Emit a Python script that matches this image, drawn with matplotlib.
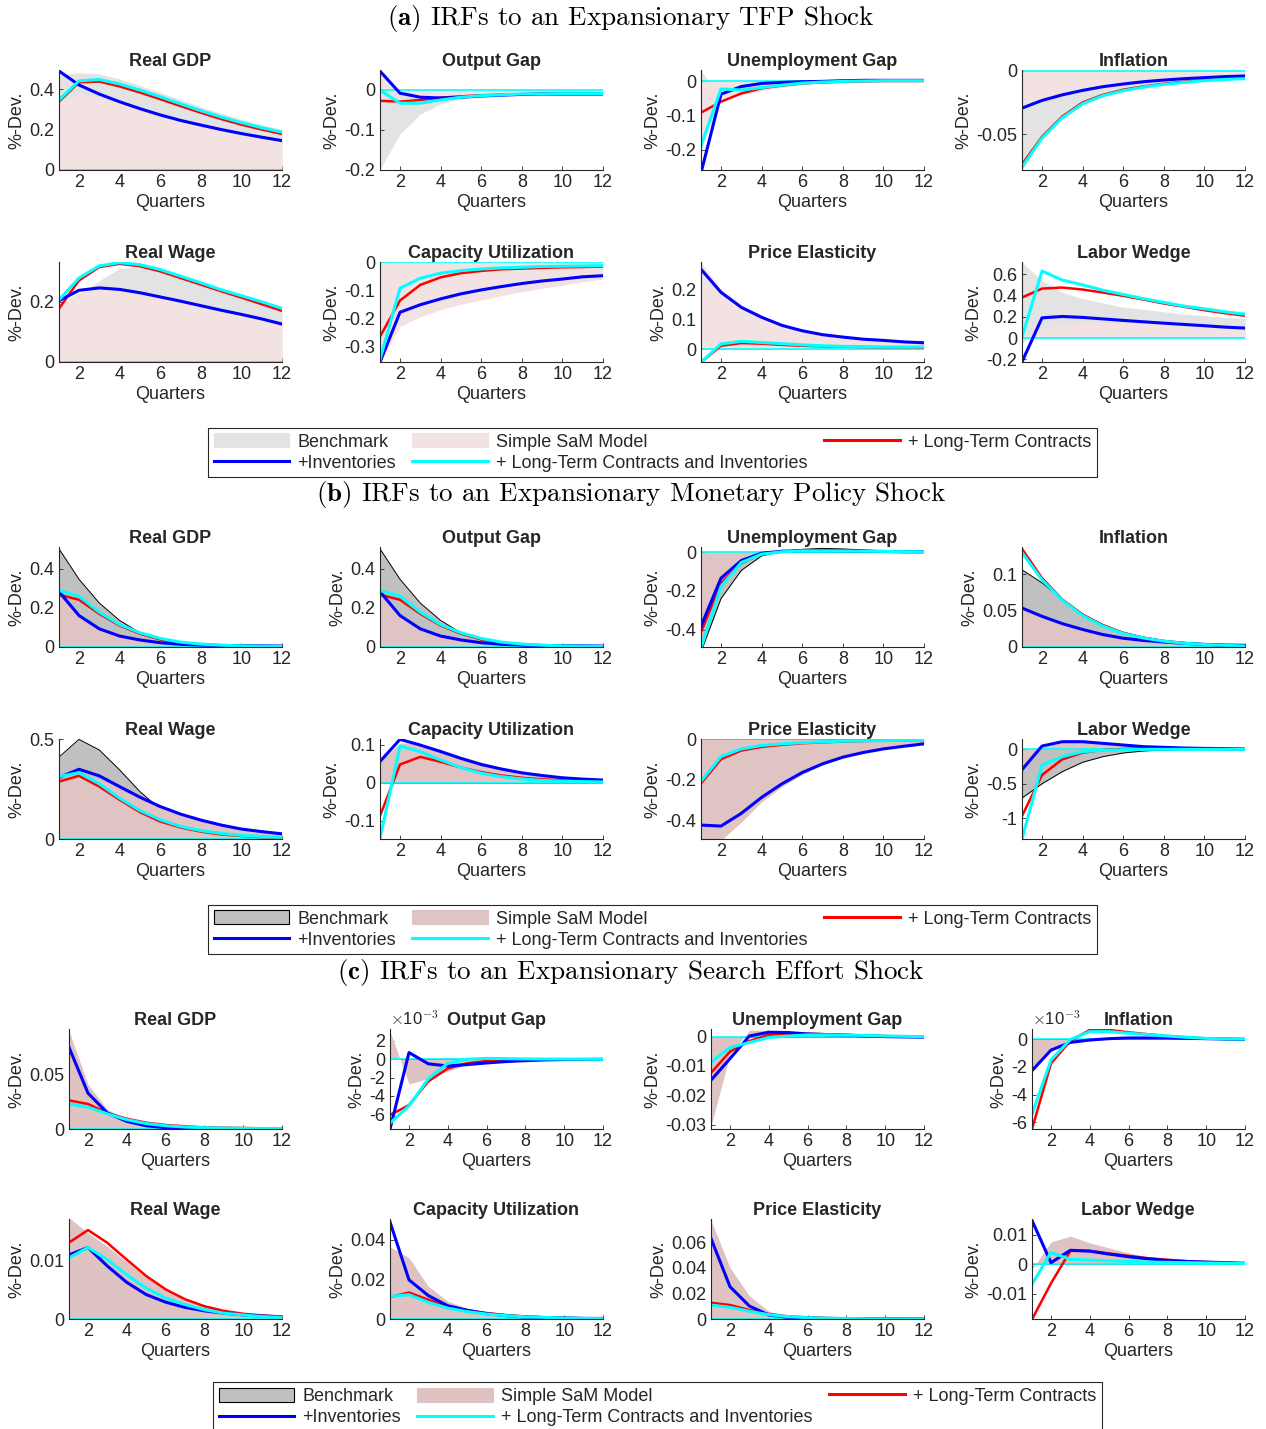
import matplotlib
matplotlib.use("Agg")
import matplotlib.pyplot as plt
from matplotlib.patches import Patch
from matplotlib.lines import Line2D
from matplotlib.ticker import FuncFormatter, FixedLocator

plt.rcParams['font.family'] = ['Liberation Sans', 'DejaVu Sans']
plt.rcParams['axes.unicode_minus'] = False
plt.rcParams['mathtext.fontset'] = 'cm'

QUARTERS = list(range(1, 13))
TITLES = ["Real GDP", "Output Gap", "Unemployment Gap", "Inflation",
          "Real Wage", "Capacity Utilization", "Price Elasticity", "Labor Wedge"]
SECTION_TITLES = [r"$\mathbf{(a)}$ IRFs to an Expansionary TFP Shock",
                  r"$\mathbf{(b)}$ IRFs to an Expansionary Monetary Policy Shock",
                  r"$\mathbf{(c)}$ IRFs to an Expansionary Search Effort Shock"]
LEGEND_LABELS = ["Benchmark", "+Inventories", "Simple SaM Model",
                 "+ Long-Term Contracts and Inventories", "+ Long-Term Contracts"]
ZERO12 = [0.0] * 12

# ---------------- (a) TFP shock ----------------
A_GDP_BENCH = [0.47, 0.48, 0.475, 0.45, 0.418, 0.383, 0.347, 0.312, 0.28, 0.25, 0.224, 0.20]
A_GDP_SAM = [0.33, 0.38, 0.36, 0.33, 0.30, 0.267, 0.24, 0.215, 0.195, 0.175, 0.16, 0.148]
A_GDP_LTC = [0.337, 0.433, 0.437, 0.413, 0.383, 0.35, 0.316, 0.283, 0.252, 0.224, 0.20, 0.178]
A_GDP_INV = [0.49, 0.42, 0.375, 0.337, 0.303, 0.272, 0.245, 0.222, 0.20, 0.18, 0.162, 0.145]
A_GDP_BOTH = [0.345, 0.44, 0.447, 0.425, 0.395, 0.362, 0.327, 0.293, 0.262, 0.234, 0.209, 0.187]

A_GAP_BENCH = [-0.2, -0.11, -0.06, -0.035, -0.022, -0.015, -0.012, -0.01, -0.009, -0.008, -0.008, -0.007]
A_GAP_SAM = [0.045, -0.008, -0.016, -0.018, -0.016, -0.014, -0.012, -0.011, -0.01, -0.01, -0.009, -0.009]
A_GAP_LTC = [-0.027, -0.029, -0.025, -0.019, -0.016, -0.013, -0.012, -0.011, -0.01, -0.01, -0.01, -0.01]
A_GAP_INV = [0.048, -0.008, -0.018, -0.02, -0.018, -0.015, -0.013, -0.011, -0.01, -0.01, -0.01, -0.01]
A_GAP_BOTH = [0.0, -0.033, -0.033, -0.025, -0.018, -0.014, -0.012, -0.01, -0.01, -0.009, -0.009, -0.009]

A_UGAP_BENCH = [0.03, -0.045, -0.04, -0.028, -0.018, -0.01, -0.005, -0.002, -0.001, 0.0, 0.0, 0.0]
A_UGAP_SAM = [-0.2, -0.055, -0.03, -0.02, -0.012, -0.007, -0.004, -0.002, -0.001, 0.0, 0.0, 0.0]
A_UGAP_LTC = [-0.092, -0.06, -0.036, -0.021, -0.013, -0.007, -0.004, -0.002, -0.001, 0.0, 0.0, 0.0]
A_UGAP_INV = [-0.27, -0.038, -0.016, -0.007, -0.004, -0.002, -0.001, 0.001, 0.002, 0.002, 0.002, 0.002]
A_UGAP_BOTH = [-0.19, -0.023, -0.026, -0.019, -0.012, -0.006, -0.003, -0.001, 0.0, 0.001, 0.001, 0.001]

A_INFL_BENCH = [-0.078, -0.054, -0.038, -0.027, -0.02, -0.016, -0.013, -0.011, -0.009, -0.008, -0.007, -0.0063]
A_INFL_SAM = [-0.026, -0.022, -0.018, -0.0152, -0.0124, -0.0103, -0.0086, -0.0073, -0.0062, -0.0054, -0.0046, -0.0041]
A_INFL_LTC = [-0.074, -0.052, -0.036, -0.025, -0.019, -0.015, -0.0124, -0.0103, -0.0087, -0.0074, -0.0066, -0.006]
A_INFL_INV = [-0.0295, -0.0234, -0.019, -0.0155, -0.0126, -0.0105, -0.0087, -0.0074, -0.0063, -0.0055, -0.0047, -0.0042]
A_INFL_BOTH = [-0.076, -0.053, -0.037, -0.026, -0.0197, -0.0158, -0.0129, -0.0108, -0.0092, -0.0079, -0.0069, -0.0063]

A_WAGE_BENCH = [0.19, 0.22, 0.27, 0.31, 0.315, 0.303, 0.282, 0.26, 0.238, 0.217, 0.197, 0.177]
A_WAGE_SAM = [0.19, 0.232, 0.24, 0.235, 0.225, 0.212, 0.198, 0.183, 0.168, 0.154, 0.14, 0.125]
A_WAGE_LTC = [0.176, 0.271, 0.315, 0.326, 0.318, 0.301, 0.279, 0.257, 0.235, 0.214, 0.192, 0.17]
A_WAGE_INV = [0.203, 0.238, 0.246, 0.241, 0.23, 0.216, 0.202, 0.187, 0.172, 0.158, 0.143, 0.126]
A_WAGE_BOTH = [0.205, 0.279, 0.319, 0.33, 0.323, 0.307, 0.285, 0.263, 0.24, 0.22, 0.20, 0.178]

A_CU_BENCH = ZERO12
A_CU_SAM = [-0.36, -0.23, -0.195, -0.17, -0.15, -0.135, -0.12, -0.105, -0.093, -0.082, -0.07, -0.06]
A_CU_LTC = [-0.268, -0.137, -0.081, -0.054, -0.039, -0.031, -0.025, -0.0226, -0.02, -0.018, -0.017, -0.0155]
A_CU_INV = [-0.36, -0.179, -0.152, -0.131, -0.113, -0.099, -0.087, -0.076, -0.067, -0.06, -0.052, -0.048]
A_CU_BOTH = [-0.352, -0.093, -0.057, -0.039, -0.03, -0.024, -0.02, -0.018, -0.015, -0.014, -0.013, -0.012]

A_PE_BENCH = ZERO12
A_PE_SAM = [0.29, 0.20, 0.148, 0.112, 0.085, 0.066, 0.052, 0.043, 0.036, 0.031, 0.026, 0.022]
A_PE_LTC = [-0.045, 0.011, 0.02, 0.018, 0.014, 0.011, 0.009, 0.008, 0.007, 0.006, 0.006, 0.005]
A_PE_INV = [0.267, 0.189, 0.139, 0.106, 0.079, 0.061, 0.048, 0.04, 0.033, 0.029, 0.024, 0.021]
A_PE_BOTH = [-0.045, 0.017, 0.026, 0.022, 0.018, 0.014, 0.011, 0.009, 0.008, 0.007, 0.007, 0.007]

A_LW_BENCH = [0.715, 0.54, 0.43, 0.37, 0.33, 0.29, 0.27, 0.247, 0.225, 0.21, 0.194, 0.184]
A_LW_SAM = [-0.05, 0.10, 0.125, 0.14, 0.145, 0.142, 0.136, 0.128, 0.12, 0.112, 0.104, 0.096]
A_LW_LTC = [0.38, 0.465, 0.475, 0.456, 0.428, 0.397, 0.362, 0.325, 0.294, 0.262, 0.234, 0.21]
A_LW_INV = [-0.23, 0.19, 0.203, 0.194, 0.18, 0.166, 0.153, 0.14, 0.128, 0.116, 0.103, 0.094]
A_LW_BOTH = [0.0, 0.63, 0.545, 0.50, 0.45, 0.41, 0.37, 0.335, 0.30, 0.275, 0.247, 0.225]

# ---------------- (b) Monetary policy shock ----------------
B_GDP_BENCH = [0.505, 0.347, 0.225, 0.136, 0.073, 0.036, 0.017, 0.008, 0.003, 0.002, 0.001, 0.001]
B_GDP_SAM = [0.26, 0.16, 0.093, 0.056, 0.035, 0.021, 0.013, 0.008, 0.005, 0.003, 0.002, 0.001]
B_GDP_LTC = [0.268, 0.242, 0.17, 0.11, 0.068, 0.039, 0.022, 0.014, 0.008, 0.005, 0.004, 0.003]
B_GDP_INV = [0.285, 0.161, 0.093, 0.056, 0.036, 0.022, 0.014, 0.01, 0.008, 0.007, 0.006, 0.005]
B_GDP_BOTH = [0.29, 0.26, 0.178, 0.115, 0.073, 0.044, 0.025, 0.015, 0.009, 0.006, 0.004, 0.003]

B_GAP_BENCH = [0.505, 0.347, 0.225, 0.136, 0.073, 0.036, 0.017, 0.008, 0.003, 0.002, 0.001, 0.001]
B_GAP_SAM = [0.26, 0.16, 0.093, 0.056, 0.035, 0.021, 0.013, 0.008, 0.005, 0.003, 0.002, 0.001]
B_GAP_LTC = [0.268, 0.242, 0.17, 0.11, 0.068, 0.039, 0.022, 0.014, 0.008, 0.005, 0.004, 0.003]
B_GAP_INV = [0.285, 0.161, 0.093, 0.056, 0.036, 0.022, 0.014, 0.01, 0.008, 0.007, 0.006, 0.005]
B_GAP_BOTH = [0.29, 0.26, 0.178, 0.115, 0.073, 0.044, 0.025, 0.015, 0.009, 0.006, 0.004, 0.003]

B_UGAP_BENCH = [-0.52, -0.24, -0.094, -0.019, 0.003, 0.015, 0.02, 0.017, 0.012, 0.007, 0.003, 0.002]
B_UGAP_SAM = [-0.43, -0.14, -0.045, -0.008, 0.004, 0.008, 0.008, 0.007, 0.005, 0.004, 0.003, 0.002]
B_UGAP_LTC = [-0.417, -0.16, -0.057, -0.009, 0.003, 0.008, 0.008, 0.007, 0.005, 0.004, 0.003, 0.002]
B_UGAP_INV = [-0.386, -0.134, -0.043, -0.005, 0.005, 0.008, 0.008, 0.007, 0.005, 0.004, 0.002, 0.002]
B_UGAP_BOTH = [-0.50, -0.177, -0.053, -0.01, 0.002, 0.007, 0.007, 0.006, 0.005, 0.004, 0.003, 0.002]

B_INFL_BENCH = [0.106, 0.088, 0.065, 0.045, 0.031, 0.02, 0.0136, 0.009, 0.006, 0.004, 0.0025, 0.0015]
B_INFL_SAM = [0.052, 0.041, 0.031, 0.023, 0.016, 0.011, 0.008, 0.006, 0.004, 0.003, 0.002, 0.0015]
B_INFL_LTC = [0.135, 0.0945, 0.065, 0.0445, 0.0295, 0.0195, 0.0127, 0.0082, 0.0055, 0.0036, 0.0023, 0.0014]
B_INFL_INV = [0.0536, 0.042, 0.032, 0.024, 0.017, 0.012, 0.009, 0.0068, 0.005, 0.0036, 0.0027, 0.0023]
B_INFL_BOTH = [0.13, 0.092, 0.064, 0.043, 0.0286, 0.0186, 0.0123, 0.008, 0.0052, 0.0034, 0.0023, 0.0014]

B_WAGE_BENCH = [0.41, 0.50, 0.447, 0.347, 0.238, 0.15, 0.097, 0.06, 0.037, 0.022, 0.013, 0.007]
B_WAGE_SAM = [0.30, 0.33, 0.30, 0.25, 0.20, 0.157, 0.12, 0.092, 0.068, 0.049, 0.036, 0.025]
B_WAGE_LTC = [0.288, 0.317, 0.263, 0.197, 0.135, 0.088, 0.058, 0.037, 0.023, 0.015, 0.01, 0.007]
B_WAGE_INV = [0.308, 0.35, 0.317, 0.263, 0.21, 0.163, 0.125, 0.095, 0.07, 0.05, 0.037, 0.026]
B_WAGE_BOTH = [0.313, 0.333, 0.277, 0.205, 0.143, 0.097, 0.063, 0.042, 0.028, 0.018, 0.013, 0.008]

B_CU_BENCH = ZERO12
B_CU_SAM = [0.055, 0.105, 0.103, 0.088, 0.07, 0.054, 0.04, 0.03, 0.022, 0.015, 0.011, 0.008]
B_CU_LTC = [-0.089, 0.048, 0.068, 0.055, 0.04, 0.028, 0.019, 0.013, 0.009, 0.006, 0.004, 0.003]
B_CU_INV = [0.055, 0.114, 0.099, 0.082, 0.064, 0.048, 0.036, 0.026, 0.019, 0.013, 0.0096, 0.007]
B_CU_BOTH = [-0.15, 0.096, 0.082, 0.06, 0.04, 0.025, 0.016, 0.01, 0.006, 0.004, 0.003, 0.002]

B_PE_BENCH = ZERO12
B_PE_SAM = [-0.52, -0.50, -0.41, -0.31, -0.235, -0.175, -0.128, -0.093, -0.068, -0.05, -0.036, -0.025]
B_PE_LTC = [-0.221, -0.099, -0.056, -0.038, -0.028, -0.02, -0.015, -0.012, -0.009, -0.007, -0.005, -0.005]
B_PE_INV = [-0.425, -0.43, -0.367, -0.288, -0.221, -0.165, -0.122, -0.089, -0.066, -0.048, -0.035, -0.023]
B_PE_BOTH = [-0.21, -0.086, -0.048, -0.031, -0.023, -0.017, -0.013, -0.01, -0.008, -0.007, -0.005, -0.004]

B_LW_BENCH = [-0.71, -0.50, -0.324, -0.188, -0.106, -0.053, -0.024, -0.01, -0.004, -0.002, -0.001, 0.0]
B_LW_SAM = [-0.30, 0.03, 0.10, 0.105, 0.085, 0.062, 0.04, 0.028, 0.018, 0.012, 0.008, 0.005]
B_LW_LTC = [-0.976, -0.372, -0.145, -0.048, -0.01, 0.005, 0.01, 0.01, 0.005, 0.005, 0.005, 0.0]
B_LW_INV = [-0.30, 0.048, 0.111, 0.111, 0.087, 0.063, 0.039, 0.029, 0.019, 0.014, 0.01, 0.005]
B_LW_BOTH = [-1.32, -0.227, -0.106, -0.034, -0.014, -0.005, 0.0, 0.0, 0.0, 0.0, 0.0, 0.0]

# ---------------- (c) Search effort shock ----------------
C_GDP_BENCH = ZERO12
C_GDP_SAM = [0.0914, 0.041, 0.018, 0.009, 0.005, 0.003, 0.002, 0.001, 0.0006, 0.0004, 0.0002, 0.0001]
C_GDP_LTC = [0.0264, 0.023, 0.0147, 0.0095, 0.0058, 0.0037, 0.0025, 0.0015, 0.0012, 0.0009, 0.0006, 0.0006]
C_GDP_INV = [0.076, 0.033, 0.0147, 0.007, 0.003, 0.0012, 0.0006, 0.0004, 0.0003, 0.0002, 0.0001, 0.0001]
C_GDP_BOTH = [0.0233, 0.02, 0.014, 0.0086, 0.005, 0.003, 0.0018, 0.0012, 0.0009, 0.0006, 0.0005, 0.0004]

C_GAP_BENCH = ZERO12
C_GAP_SAM = [3.2e-3, -2.7e-3, -2.1e-3, -1.3e-3, -0.6e-3, -0.25e-3, -0.1e-3, -0.05e-3, 0.0, 0.0, 0.0, 0.0]
C_GAP_LTC = [-6.1e-3, -5.0e-3, -2.4e-3, -1.0e-3, -0.44e-3, -0.18e-3, -0.07e-3, -0.03e-3, -0.01e-3, 0.0, 0.0, 0.0]
C_GAP_INV = [-7.8e-3, 0.73e-3, -0.5e-3, -0.73e-3, -0.58e-3, -0.4e-3, -0.25e-3, -0.15e-3, -0.07e-3, -0.03e-3, -0.02e-3, 0.0]
C_GAP_BOTH = [-7.0e-3, -5.1e-3, -2.1e-3, -0.44e-3, 0.0, 0.1e-3, 0.07e-3, 0.04e-3, 0.03e-3, 0.02e-3, 0.01e-3, 0.0]

C_UGAP_BENCH = ZERO12
C_UGAP_SAM = [-0.031, -0.006, 0.0022, 0.0022, 0.0017, 0.0012, 0.0009, 0.0006, 0.0004, 0.0003, 0.0002, 0.0001]
C_UGAP_LTC = [-0.0125, -0.0051, -0.0015, 0.0006, 0.0009, 0.001, 0.0008, 0.0006, 0.0004, 0.0002, 0.0001, 0.0]
C_UGAP_INV = [-0.015, -0.0075, 0.0002, 0.0015, 0.0014, 0.0009, 0.0007, 0.0005, 0.0002, 0.0, -0.0001, -0.0002]
C_UGAP_BOTH = [-0.0088, -0.0037, -0.002, -0.0003, 0.0002, 0.0006, 0.0006, 0.0005, 0.0004, 0.0002, 0.0001, 0.0]

C_INFL_BENCH = ZERO12
C_INFL_SAM = [-2.1e-3, -0.7e-3, -0.2e-3, 0.05e-3, 0.1e-3, 0.1e-3, 0.08e-3, 0.06e-3, 0.04e-3, 0.03e-3, 0.02e-3, 0.01e-3]
C_INFL_LTC = [-6.6e-3, -1.75e-3, -0.1e-3, 0.68e-3, 0.68e-3, 0.51e-3, 0.37e-3, 0.24e-3, 0.15e-3, 0.07e-3, 0.02e-3, 0.0]
C_INFL_INV = [-2.3e-3, -0.78e-3, -0.22e-3, -0.05e-3, 0.05e-3, 0.1e-3, 0.1e-3, 0.1e-3, 0.07e-3, 0.05e-3, 0.02e-3, 0.0]
C_INFL_BOTH = [-5.5e-3, -1.5e-3, 0.0, 0.56e-3, 0.56e-3, 0.44e-3, 0.34e-3, 0.24e-3, 0.15e-3, 0.07e-3, 0.03e-3, 0.02e-3]

C_WAGE_BENCH = ZERO12
C_WAGE_SAM = [0.0175, 0.0148, 0.0125, 0.0098, 0.0072, 0.005, 0.0034, 0.0022, 0.0014, 0.0009, 0.0006, 0.0004]
C_WAGE_LTC = [0.0131, 0.0153, 0.0131, 0.0102, 0.0074, 0.0051, 0.0034, 0.0022, 0.0014, 0.0009, 0.0006, 0.0004]
C_WAGE_INV = [0.011, 0.0123, 0.0091, 0.0063, 0.0042, 0.0029, 0.002, 0.0014, 0.001, 0.0007, 0.0005, 0.0004]
C_WAGE_BOTH = [0.0105, 0.0123, 0.0102, 0.0076, 0.0053, 0.0036, 0.0025, 0.0016, 0.001, 0.0007, 0.0004, 0.0003]

C_CU_BENCH = ZERO12
C_CU_SAM = [0.0366, 0.031, 0.0165, 0.009, 0.0055, 0.0035, 0.0022, 0.0014, 0.0009, 0.0006, 0.0004, 0.0003]
C_CU_LTC = [0.011, 0.0134, 0.0097, 0.0064, 0.0044, 0.003, 0.002, 0.0013, 0.0009, 0.0006, 0.0004, 0.0003]
C_CU_INV = [0.0497, 0.0198, 0.0118, 0.0067, 0.0044, 0.0027, 0.0017, 0.001, 0.0007, 0.0005, 0.0003, 0.0003]
C_CU_BOTH = [0.0114, 0.0123, 0.0084, 0.0055, 0.0037, 0.0025, 0.0017, 0.0011, 0.0008, 0.0005, 0.0003, 0.0002]

C_PE_BENCH = ZERO12
C_PE_SAM = [0.078, 0.04, 0.018, 0.006, 0.0025, 0.0012, 0.0006, 0.0003, 0.0002, 0.0001, 0.0, 0.0]
C_PE_LTC = [0.0127, 0.0109, 0.007, 0.0039, 0.002, 0.0013, 0.0008, 0.0005, 0.0003, 0.0002, 0.0001, 0.0]
C_PE_INV = [0.0636, 0.0252, 0.0101, 0.0031, 0.0013, 0.0007, 0.0004, 0.0003, 0.0002, 0.0001, 0.0, 0.0]
C_PE_BOTH = [0.0109, 0.0091, 0.006, 0.0034, 0.0018, 0.001, 0.0006, 0.0004, 0.0002, 0.0001, 0.0, 0.0]

C_LW_BENCH = ZERO12
C_LW_SAM = [-0.002, 0.0075, 0.0095, 0.0072, 0.0055, 0.0038, 0.0025, 0.0016, 0.001, 0.0006, 0.0004, 0.0002]
C_LW_LTC = [-0.019, -0.0065, 0.0045, 0.0045, 0.0036, 0.0028, 0.002, 0.0015, 0.001, 0.0007, 0.0005, 0.0002]
C_LW_INV = [0.0151, 0.0005, 0.0047, 0.0044, 0.0034, 0.0025, 0.0018, 0.0012, 0.0009, 0.0007, 0.0005, 0.0003]
C_LW_BOTH = [-0.0071, 0.004, 0.0016, 0.0014, 0.0011, 0.0009, 0.0007, 0.0006, 0.0005, 0.0004, 0.0003, 0.0002]

# axis limits and ticks (display settings)
A_YLIMS = [(0, 0.494), (-0.2, 0.05), (-0.258, 0.032), (-0.078, 0.0005),
           (0, 0.332), (-0.357, 0.001), (-0.043, 0.29), (-0.225, 0.715)]
A_YTICKS = [[0, 0.2, 0.4], [-0.2, -0.1, 0], [-0.2, -0.1, 0], [-0.05, 0],
            [0, 0.2], [-0.3, -0.2, -0.1, 0], [0, 0.1, 0.2], [-0.2, 0, 0.2, 0.4, 0.6]]
B_YLIMS = [(0, 0.512), (0, 0.512), (-0.49, 0.027), (0, 0.137),
           (0, 0.502), (-0.148, 0.115), (-0.494, 0.001), (-1.3, 0.15)]
B_YTICKS = [[0, 0.2, 0.4], [0, 0.2, 0.4], [-0.4, -0.2, 0], [0, 0.05, 0.1],
            [0, 0.5], [-0.1, 0, 0.1], [-0.4, -0.2, 0], [-1, -0.5, 0]]
C_YLIMS = [(0, 0.092), (-7.6e-3, 3.3e-3), (-0.0315, 0.0026), (-6.5e-3, 0.75e-3),
           (0, 0.0172), (0, 0.0506), (0, 0.078), (-0.0186, 0.0153)]
C_YTICKS = [[0, 0.05], [-6e-3, -4e-3, -2e-3, 0, 2e-3], [-0.03, -0.02, -0.01, 0], [-6e-3, -4e-3, -2e-3, 0],
            [0, 0.01], [0, 0.02, 0.04], [0, 0.02, 0.04, 0.06], [-0.01, 0, 0.01]]
C_SCALED = [False, True, False, True, False, False, False, False]

SECTIONS = [
    dict(data=[(A_GDP_BENCH, A_GDP_SAM, A_GDP_LTC, A_GDP_INV, A_GDP_BOTH),
               (A_GAP_BENCH, A_GAP_SAM, A_GAP_LTC, A_GAP_INV, A_GAP_BOTH),
               (A_UGAP_BENCH, A_UGAP_SAM, A_UGAP_LTC, A_UGAP_INV, A_UGAP_BOTH),
               (A_INFL_BENCH, A_INFL_SAM, A_INFL_LTC, A_INFL_INV, A_INFL_BOTH),
               (A_WAGE_BENCH, A_WAGE_SAM, A_WAGE_LTC, A_WAGE_INV, A_WAGE_BOTH),
               (A_CU_BENCH, A_CU_SAM, A_CU_LTC, A_CU_INV, A_CU_BOTH),
               (A_PE_BENCH, A_PE_SAM, A_PE_LTC, A_PE_INV, A_PE_BOTH),
               (A_LW_BENCH, A_LW_SAM, A_LW_LTC, A_LW_INV, A_LW_BOTH)],
         ylims=A_YLIMS, yticks=A_YTICKS, scaled=[False] * 8,
         grey="#e3e3e3", pink="#f3e2e2", edge=None,
         rows=[(70, 170), (262, 362)], lefts=[58.7, 379.7, 700.7, 1021.7],
         title_y=18, legend_center=(652.5, 452.5)),
    dict(data=[(B_GDP_BENCH, B_GDP_SAM, B_GDP_LTC, B_GDP_INV, B_GDP_BOTH),
               (B_GAP_BENCH, B_GAP_SAM, B_GAP_LTC, B_GAP_INV, B_GAP_BOTH),
               (B_UGAP_BENCH, B_UGAP_SAM, B_UGAP_LTC, B_UGAP_INV, B_UGAP_BOTH),
               (B_INFL_BENCH, B_INFL_SAM, B_INFL_LTC, B_INFL_INV, B_INFL_BOTH),
               (B_WAGE_BENCH, B_WAGE_SAM, B_WAGE_LTC, B_WAGE_INV, B_WAGE_BOTH),
               (B_CU_BENCH, B_CU_SAM, B_CU_LTC, B_CU_INV, B_CU_BOTH),
               (B_PE_BENCH, B_PE_SAM, B_PE_LTC, B_PE_INV, B_PE_BOTH),
               (B_LW_BENCH, B_LW_SAM, B_LW_LTC, B_LW_INV, B_LW_BOTH)],
         ylims=B_YLIMS, yticks=B_YTICKS, scaled=[False] * 8,
         grey="#c0c0c0", pink="#e0c3c3", edge="black",
         rows=[(547, 647), (739, 839)], lefts=[58.7, 379.7, 700.7, 1021.7],
         title_y=495, legend_center=(652.5, 929.5)),
    dict(data=[(C_GDP_BENCH, C_GDP_SAM, C_GDP_LTC, C_GDP_INV, C_GDP_BOTH),
               (C_GAP_BENCH, C_GAP_SAM, C_GAP_LTC, C_GAP_INV, C_GAP_BOTH),
               (C_UGAP_BENCH, C_UGAP_SAM, C_UGAP_LTC, C_UGAP_INV, C_UGAP_BOTH),
               (C_INFL_BENCH, C_INFL_SAM, C_INFL_LTC, C_INFL_INV, C_INFL_BOTH),
               (C_WAGE_BENCH, C_WAGE_SAM, C_WAGE_LTC, C_WAGE_INV, C_WAGE_BOTH),
               (C_CU_BENCH, C_CU_SAM, C_CU_LTC, C_CU_INV, C_CU_BOTH),
               (C_PE_BENCH, C_PE_SAM, C_PE_LTC, C_PE_INV, C_PE_BOTH),
               (C_LW_BENCH, C_LW_SAM, C_LW_LTC, C_LW_INV, C_LW_BOTH)],
         ylims=C_YLIMS, yticks=C_YTICKS, scaled=C_SCALED,
         grey="#c0c0c0", pink="#dfc3c3", edge="black",
         rows=[(1029, 1129), (1219, 1319)], lefts=[68.6, 389.6, 710.6, 1031.6],
         title_y=972, legend_center=(657.5, 1407)),
]
RIGHTS = [282, 603, 924, 1245]

W, H = 1266, 1429
TXT = "#262626"
FS = 13
fig = plt.figure(figsize=(W / 100, H / 100), dpi=100)


def fmt_plain(v, p):
    return f"{v:g}"


def fmt_milli(v, p):
    return f"{v * 1e3:g}"


for k, sec in enumerate(SECTIONS):
    for i in range(8):
        r, c = divmod(i, 4)
        top, bot = sec["rows"][r]
        left, right = sec["lefts"][c], RIGHTS[c]
        ax = fig.add_axes([left / W, 1 - bot / H, (right - left) / W, (bot - top) / H])
        bench, sam, ltc, inv, both = sec["data"][i]
        ax.fill_between(QUARTERS, 0, bench, color=sec["grey"], linewidth=0, zorder=1)
        if sec["edge"] is not None:
            ax.plot(QUARTERS, bench, color=sec["edge"], lw=0.7, zorder=1.5)
        ax.fill_between(QUARTERS, 0, sam, color=sec["pink"], linewidth=0, zorder=2)
        ax.axhline(0, color="#00ffff", lw=1.2, zorder=3)
        ax.plot(QUARTERS, ltc, color="#ff0000", lw=1.8, zorder=4)
        ax.plot(QUARTERS, inv, color="#0000ff", lw=2.2, zorder=5)
        ax.plot(QUARTERS, both, color="#00ffff", lw=2.2, zorder=6)
        ax.set_xlim(1, 12)
        ax.set_ylim(*sec["ylims"][i])
        ax.set_xticks([2, 4, 6, 8, 10, 12])
        ax.yaxis.set_major_locator(FixedLocator(sec["yticks"][i]))
        if sec["scaled"][i]:
            ax.yaxis.set_major_formatter(FuncFormatter(fmt_milli))
            ax.text(0.0, 1.01, r"$\times$10$^{-3}$", transform=ax.transAxes,
                    fontsize=12, color=TXT, ha="left", va="bottom")
        else:
            ax.yaxis.set_major_formatter(FuncFormatter(fmt_plain))
        for s in ("top", "right"):
            ax.spines[s].set_visible(False)
        for s in ("left", "bottom"):
            ax.spines[s].set_color(TXT)
            ax.spines[s].set_linewidth(0.8)
            ax.spines[s].set_zorder(7)
        ax.tick_params(direction="in", length=3, width=0.6, labelsize=FS,
                       colors=TXT, pad=3)
        ax.set_title(TITLES[i], fontsize=FS, fontweight="bold", color=TXT, pad=3)
        ax.set_xlabel("Quarters", fontsize=FS, color=TXT, labelpad=2)
        ax.set_ylabel("%-Dev.", fontsize=FS, color=TXT, labelpad=3)
        ax.set_facecolor("none")

    fig.text(631 / W, 1 - sec["title_y"] / H, SECTION_TITLES[k],
             family="cmr10", fontsize=19.5, ha="center", va="center", color="black")

    edge = sec["edge"] if sec["edge"] is not None else sec["grey"]
    handles = [Patch(facecolor=sec["grey"], edgecolor=edge, linewidth=0.8),
               Line2D([], [], color="#0000ff", lw=2.2),
               Patch(facecolor=sec["pink"], edgecolor=sec["pink"], linewidth=0.8),
               Line2D([], [], color="#00ffff", lw=2.2),
               Line2D([], [], color="#ff0000", lw=2.2)]
    cx, cy = sec["legend_center"]
    leg = fig.legend(handles, LEGEND_LABELS, ncol=3, loc="center",
                     bbox_to_anchor=(cx / W, 1 - cy / H), fontsize=FS,
                     handlelength=4.2, handleheight=0.85, handletextpad=0.45,
                     columnspacing=0.9, labelspacing=0.22, borderpad=0.3,
                     frameon=True, fancybox=False, edgecolor="#262626",
                     framealpha=1.0)
    leg.get_frame().set_linewidth(0.8)
    for t in leg.get_texts():
        t.set_color(TXT)

fig.savefig("out.png", dpi=100)
